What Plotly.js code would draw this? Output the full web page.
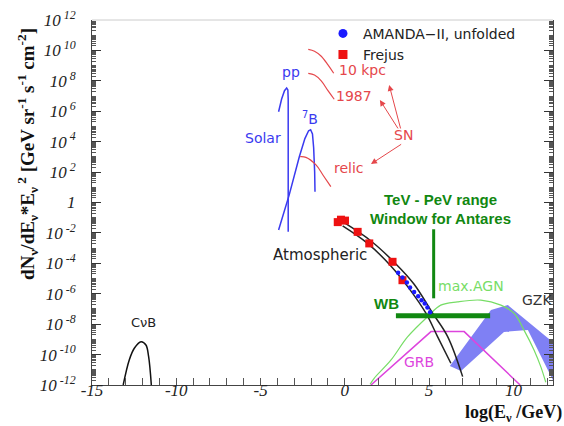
<!DOCTYPE html>
<html><head><meta charset="utf-8">
<script src="https://cdn.plot.ly/plotly-3.0.1.min.js"></script>
<style>html,body{margin:0;padding:0;background:#fff}#chart{width:564px;height:426px}</style>
</head><body><div id="chart"></div>
<script>
// x: log10(E/GeV); y: log10 of flux  (converted to values for the log axis)
const cnbX = [-13.15,-12.79,-12.49,-12.09,-11.80,-11.64,-11.48];
const cnbY = [-12,-10.35,-9.58,-9.15,-9.37,-10.14,-12];

const ppX = [-3.93,-3.75,-3.58,-3.45,-3.38,-3.36,-3.36];
const ppY = [5.97,6.8,7.35,7.52,7.4,6.8,-1.92];

const b7X = [-3.93,-3.3,-2.70,-2.37,-2.15,-2.03,-1.92,-1.85,-1.79,-1.77];
const b7Y = [-1.81,0.5,3.01,4.2,4.72,4.78,4.5,3.6,2.0,0.71];

const relicX = [-2.65,-2.31,-1.71,-1.30,-0.83];
const relicY = [3.01,2.97,2.47,1.81,1.04];

const sn10X = [-2.17,-1.8,-1.4,-1.0,-0.66];
const sn10Y = [10.07,9.95,9.62,9.05,8.50];
const sn87X = [-2.17,-1.8,-1.4,-1.0,-0.63];
const sn87Y = [8.49,8.38,8.0,7.35,6.79];

const atmLoX = [-0.13,1.35,2.73,3.74,4.81,5.50,6.29];
const atmLoY = [-1.54,-2.69,-4.17,-5.55,-7.28,-8.82,-10.57];
const atmHiX = [-0.04,1.55,3.03,4.10,5.21,6.10,6.99];
const atmHiY = [-1.33,-2.53,-4.04,-5.36,-7.28,-8.82,-11.45];

const frejusX = [-0.42,-0.23,0.01,0.76,1.45,2.83,3.42];
const frejusY = [-1.29,-1.13,-1.19,-1.93,-2.69,-3.90,-5.11];

const amandaX = [3.16,3.42,3.68,3.87,4.11,4.35,4.55,4.74,4.90,5.06];
const amandaY = [-4.62,-4.93,-5.26,-5.59,-5.88,-6.16,-6.42,-6.64,-6.90,-7.21];

const agnX = [1.5,1.74,2.73,3.72,4.90,5.69,6.68,8.07,9.26,10.05,10.63,11.23,11.63,11.92];
const agnY = [-11.95,-11.56,-10.37,-8.84,-7.52,-6.75,-6.53,-6.42,-6.75,-7.30,-8.39,-9.71,-10.81,-11.82];

const grbX = [1.55,5.11,7.08,10.40];
const grbY = [-12,-8.49,-8.49,-12];

const gzkX = [6.23,8.67,9.67,12.40,12.40,10.86,9.44,6.89,6.23];
const gzkY = [-10.75,-7.07,-6.74,-9.24,-11.80,-8.38,-8.51,-11.08,-10.75];

const wbX = [3.03,8.62];
const wbY = [-7.44,-7.44];
const antX = [5.27,5.27];
const antY = [-1.76,-6.30];

const yTickExp = [12,10,8,6,4,2,0,-2,-4,-6,-8,-10,-12];
const xTickVals = [-15,-10,-5,0,5,10];

const pw = a => a.map(v => Math.pow(10, v));

const yTickVals = yTickExp.map(e => Math.pow(10, e));
const yTickText = yTickExp.map(e => e === 0 ? '1' : '10<sup> ' + e + '</sup>');
const yMinor = [];
for (let n = -12; n < 12; n++) for (let k = 1; k <= 9; k++) { if (!(k === 1 && n % 2 === 0)) yMinor.push(k * Math.pow(10, n)); }

const BLUE = '#3a3af0', RED = '#e5474b', GREEN = '#118811', LGREEN = '#77dd66', MAG = '#dd44dd';

function ln(x, y, color, width, extra) {
  return Object.assign({x: x, y: pw(y), mode: 'lines', line: {color: color, width: width}, showlegend: false, hoverinfo: 'skip'}, extra || {});
}

const traces = [
  ln(gzkX, gzkY, '#7f80f4', 0, {fill: 'toself', fillcolor: '#7f80f4'}),
  ln(cnbX, cnbY, '#111', 1.5, {line: {color: '#111', width: 1.5, shape: 'spline'}}),
  ln(ppX, ppY, BLUE, 1.5),
  ln(b7X, b7Y, BLUE, 1.5),
  ln(relicX, relicY, RED, 1.2, {line: {color: RED, width: 1.2, shape: 'spline'}}),
  ln(sn10X, sn10Y, RED, 1.2, {line: {color: RED, width: 1.2, shape: 'spline'}}),
  ln(sn87X, sn87Y, RED, 1.2, {line: {color: RED, width: 1.2, shape: 'spline'}}),
  ln(agnX, agnY, LGREEN, 1.2, {line: {color: LGREEN, width: 1.2, shape: 'spline'}}),
  ln(grbX, grbY, MAG, 1.5),
  ln(atmLoX, atmLoY, '#222', 1.5, {line: {color: '#222', width: 1.5, shape: 'spline'}}),
  ln(atmHiX, atmHiY, '#222', 1.5, {line: {color: '#222', width: 1.5, shape: 'spline'}}),
  ln(wbX, wbY, GREEN, 5),
  ln(antX, antY, GREEN, 3),
  {x: frejusX, y: pw(frejusY), mode: 'markers', marker: {symbol: 'square', size: 8, color: '#ee1111'}, showlegend: false, hoverinfo: 'skip'},
  {x: amandaX, y: pw(amandaY), mode: 'markers', marker: {symbol: 'circle', size: 4.5, color: '#1a1aff'}, showlegend: false, hoverinfo: 'skip'},
  {x: [null], y: [null], mode: 'markers', name: 'AMANDA\u2212II, unfolded', marker: {symbol: 'circle', size: 9, color: '#1a1aff'}},
  {x: [null], y: [null], mode: 'markers', name: 'Frejus', marker: {symbol: 'square', size: 9, color: '#ee1111'}}
];

const SANS = 'DejaVu Sans';
function txt(x, y, t, color, size, extra) {
  return Object.assign({x: x, y: y, xref: 'x', yref: 'y', text: t, showarrow: false, font: {family: SANS, size: size, color: color}}, extra || {});
}
function arr(x, y, ax, ay) {
  return {x: x, y: y, ax: ax, ay: ay, xref: 'x', yref: 'y', axref: 'x', ayref: 'y', text: '', showarrow: true, arrowhead: 2, arrowsize: 1.2, arrowwidth: 1, arrowcolor: RED};
}
const BOLDSANS = {family: 'Liberation Sans', size: 15, color: GREEN, weight: 'bold'};

const annotations = [
  txt(-3.20, 8.58, 'pp', BLUE, 14),
  txt(-2.07, 5.56, '<sup>7</sup>B', BLUE, 14),
  txt(-4.86, 4.24, 'Solar', BLUE, 14),
  txt(1.07, 8.71, '10 kpc', RED, 14),
  txt(0.54, 7.0, '1987', RED, 14),
  txt(3.50, 4.44, 'SN', RED, 14),
  txt(0.24, 2.27, 'relic', RED, 14),
  txt(-11.92, -7.92, 'C\u03bdB', '#222', 13),
  txt(-1.50, -3.45, 'Atmospheric', '#222', 15),
  {x: 5.70, y: 0.17, xref: 'x', yref: 'y', text: '<b>TeV - PeV range</b>', showarrow: false, font: BOLDSANS},
  {x: 5.70, y: -1.02, xref: 'x', yref: 'y', text: '<b>Window for Antares</b>', showarrow: false, font: BOLDSANS},
  {x: 2.50, y: -6.67, xref: 'x', yref: 'y', text: '<b>WB</b>', showarrow: false, font: BOLDSANS},
  txt(7.48, -5.49, 'max.AGN', LGREEN, 14),
  txt(4.39, -10.49, 'GRB', MAG, 14),
  txt(11.39, -6.41, 'GZK', '#333', 14),
  arr(2.63, 7.73, 3.33, 4.77),
  arr(2.08, 6.74, 3.21, 4.77),
  arr(1.55, 2.53, 3.43, 3.89),
  {xref: 'paper', yref: 'paper', x: 1.022, y: -0.112, xanchor: 'right', yanchor: 'bottom', showarrow: false, borderpad: 0,
   text: '<b>log(E<sub>\u03bd</sub> /GeV)</b>', font: {family: 'Liberation Serif', size: 18, color: '#111'}},
  {xref: 'paper', yref: 'paper', x: -0.139, y: 0.633, xanchor: 'center', yanchor: 'middle', showarrow: false, textangle: -90,
   text: '<b>dN<sub>\u03bd</sub>/dE<sub>\u03bd</sub>*E<sub>\u03bd</sub><sup> 2</sup> [GeV sr<sup>-1</sup> s<sup>-1</sup> cm<sup>-2</sup>]</b>',
   font: {family: 'Liberation Serif', size: 19, color: '#111'}}
];

const layout = {
  width: 564, height: 426,
  margin: {l: 92, r: 11, t: 20, b: 41},
  paper_bgcolor: '#fff', plot_bgcolor: '#fff',
  showlegend: true,
  legend: {x: 0.501, y: 1.006, xanchor: 'left', yanchor: 'top', bgcolor: 'rgba(0,0,0,0)', font: {family: SANS, size: 14, color: '#222'}, tracegroupgap: 0},
  xaxis: {range: [-15, 12.35], tickvals: xTickVals, ticktext: xTickVals.map(String), ticks: 'inside', ticklen: 7, tickcolor: '#555',
          showline: true, linecolor: '#444', showgrid: false, zeroline: false, ticklabelstandoff: -10,
          tickfont: {family: 'Liberation Serif', size: 17, style: 'italic', color: '#222'},
          minor: {tickmode: 'linear', tick0: 0, dtick: 1, ticks: 'inside', ticklen: 7, tickcolor: '#555'}},
  yaxis: {type: 'log', range: [-12, 12], tickvals: yTickVals, ticktext: yTickText, ticks: 'inside', ticklen: 9, tickcolor: '#333',
          showline: true, linecolor: '#444', mirror: 'ticks', showgrid: false, zeroline: false, ticklabelstandoff: 12,
          tickfont: {family: 'Liberation Serif', size: 17, style: 'italic', color: '#222'},
          minor: {tickmode: 'array', tickvals: yMinor, ticks: 'inside', ticklen: 4, tickcolor: '#555'}},
  shapes: [{type: 'line', xref: 'paper', yref: 'paper', x0: 0, x1: 1, y0: 1, y1: 1, line: {color: '#cccccc', width: 1}}],
  annotations: annotations
};

Plotly.newPlot('chart', traces, layout, {displayModeBar: false, staticPlot: true});
</script></body></html>
